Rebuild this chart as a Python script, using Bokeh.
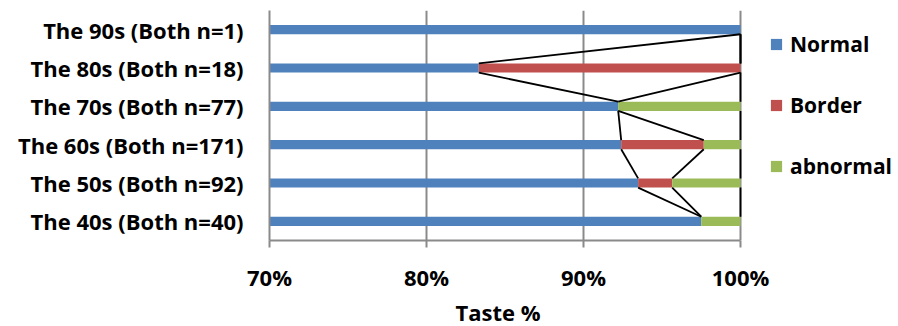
from bokeh.plotting import figure
from bokeh.models import (Range1d, FixedTicker, Legend, LegendItem, Title,
                          ColumnDataSource, NumeralTickFormatter)
from bokeh.embed import file_html
from bokeh.resources import INLINE

# Age groups, bottom to top
categories = ["The 40s (Both n=40)", "The 50s (Both n=92)", "The 60s (Both n=171)",
              "The 70s (Both n=77)", "The 80s (Both n=18)", "The 90s (Both n=1)"]
normal = [97.50, 93.48, 92.40, 92.21, 83.33, 100.0]
border = [0.00, 2.17, 5.26, 0.00, 16.67, 0.00]
abnormal = [2.50, 4.35, 2.34, 7.79, 0.00, 0.00]
series_names = ["Normal", "Border", "abnormal"]
x_ticks = [70, 80, 90, 100]
x_title = "Taste %"

colors = ["#4F81BD", "#C0504D", "#9BBB59"]
GRID = "#8A8A8A"
FONT = "Open Sans"
FSIZE = "22px"
BAR_H = 0.24

# plot area: the axis runs 70..100 over 471 px, the rest of the frame holds the legend
LEFT, AXIS_W, W, H = 269, 471, 898, 326
x_end = 70 + 30 * (W - LEFT) / AXIS_W

p = figure(width=W, height=H, output_backend="svg", toolbar_location=None,
           x_range=Range1d(70, x_end), y_range=Range1d(-0.5, len(categories) - 0.5),
           min_border_left=LEFT, min_border_right=0, min_border_top=10,
           min_border_bottom=86)
p.outline_line_color = None
p.background_fill_color = "white"

# stacked segments
ys = list(range(len(categories)))
cum1 = [n + b for n, b in zip(normal, border)]
cum2 = [c + a for c, a in zip(cum1, abnormal)]
src = ColumnDataSource(dict(y=ys, n=normal, c1=cum1, c2=cum2, zero=[0] * len(ys)))
r_n = p.hbar(y="y", left="zero", right="n", height=BAR_H, source=src,
             fill_color=colors[0], line_color=None)
r_b = p.hbar(y="y", left="n", right="c1", height=BAR_H, source=src,
             fill_color=colors[1], line_color=None)
r_a = p.hbar(y="y", left="c1", right="c2", height=BAR_H, source=src,
             fill_color=colors[2], line_color=None)

# series lines joining the segment ends of neighbouring bars
x0, y0, x1, y1 = [], [], [], []
for i in range(len(ys) - 1):
    for cum in (normal, cum1, cum2):
        x0.append(cum[i + 1]); y0.append(ys[i + 1] - BAR_H / 2)
        x1.append(cum[i]); y1.append(ys[i] + BAR_H / 2)
p.segment(x0=x0, y0=y0, x1=x1, y1=y1, line_color="black", line_width=1.8)

# axes
p.xaxis.bounds = (70, 100)
p.xaxis.ticker = FixedTicker(ticks=x_ticks)
p.xaxis.formatter = NumeralTickFormatter(format="0")
p.xaxis.major_label_overrides = {t: f"{t}%" for t in x_ticks}
p.xaxis.axis_line_color = GRID
p.xaxis.axis_line_width = 2
p.xaxis.major_tick_line_color = GRID
p.xaxis.major_tick_line_width = 2
p.xaxis.major_tick_out = 7
p.xaxis.major_tick_in = 0
p.xaxis.minor_tick_line_color = None
p.xaxis.major_label_standoff = 14

p.yaxis.ticker = FixedTicker(ticks=ys)
p.yaxis.major_label_overrides = {i: c for i, c in enumerate(categories)}
p.yaxis.axis_line_color = GRID
p.yaxis.axis_line_width = 2
p.yaxis.major_tick_line_color = None
p.yaxis.minor_tick_line_color = None
p.yaxis.major_tick_out = 0
p.yaxis.major_tick_in = 0
p.yaxis.major_label_standoff = 26

for ax in (p.xaxis, p.yaxis):
    ax.major_label_text_font = FONT
    ax.major_label_text_font_style = "bold"
    ax.major_label_text_font_size = FSIZE
    ax.major_label_text_color = "black"

# x-axis title, centred under the 70..100 span rather than the whole frame
p.add_layout(Title(text=x_title, align="left", offset=186, standoff=0,
                   text_font=FONT, text_font_style="bold", text_font_size=FSIZE,
                   text_color="black"), "below")

p.xgrid.ticker = FixedTicker(ticks=x_ticks)
p.xgrid.bounds = (70, 100)
p.xgrid.grid_line_color = GRID
p.xgrid.grid_line_width = 2
p.ygrid.grid_line_color = None

legend = Legend(items=[LegendItem(label=series_names[0], renderers=[r_n]),
                       LegendItem(label=series_names[1], renderers=[r_b]),
                       LegendItem(label=series_names[2], renderers=[r_a])],
                location=(500, 60), orientation="vertical",
                glyph_width=14, glyph_height=14, label_height=20,
                spacing=33, padding=0, margin=0, label_standoff=7,
                border_line_color=None, background_fill_alpha=0,
                label_text_font=FONT, label_text_font_style="bold",
                label_text_font_size="21px", label_text_color="black")
p.add_layout(legend, "center")

open("out.html", "w").write(file_html(p, INLINE))
